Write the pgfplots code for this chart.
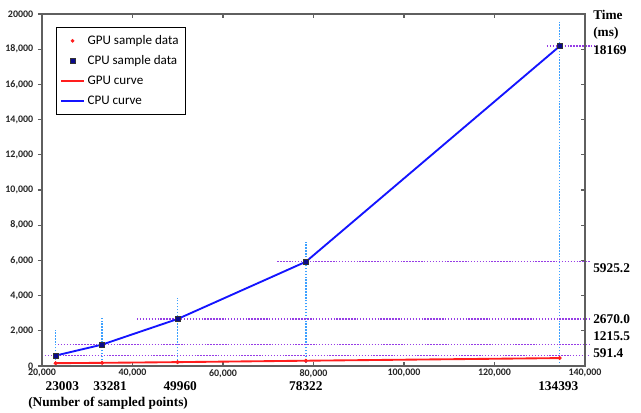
\documentclass[border=0pt]{standalone}
\usepackage{fontspec}
\setmainfont{Liberation Serif}
\newfontfamily\calfont{Carlito}
\usepackage{pgfplots}
\pgfplotsset{compat=1.18}
\definecolor{gpured}{RGB}{255,30,30}
\definecolor{cpublue}{RGB}{20,20,255}
\definecolor{cpumark}{RGB}{10,10,140}
\definecolor{refpurple}{RGB}{150,60,230}
\definecolor{refblue}{RGB}{60,160,255}
\definecolor{axgray}{RGB}{95,95,95}
\begin{document}
\begin{tikzpicture}
\pgfplotsset{
  common/.style={
    scale only axis, width=407.25pt, height=264pt,
    xmin=20000, xmax=140000, ymin=0, ymax=20000,
    scaled ticks=false,
    axis line style={axgray, line width=1pt},
    tick style={axgray, line width=0.8pt},
    major tick length=3pt,
  },
  vref/.style={color=refblue, dash pattern=on 1.1pt off 1.1pt, line width=1.1pt, forget plot},
  href/.style={color=refpurple, dash pattern=on 1.1pt off 1.1pt, line width=1.1pt, forget plot},
}
\begin{axis}[common, name=ax, clip=false,
  xtick={20000,40000,60000,80000,100000,120000,140000},
  xticklabels={{20,000},{40,000},{60,000},{80,000},{100,000},{120,000},{140,000}},
  ytick={0,2000,4000,6000,8000,10000,12000,14000,16000,18000,20000},
  yticklabels={0,{2,000},{4,000},{6,000},{8,000},{10,000},{12,000},{14,000},{16,000},{18,000},20000},
  ytick pos=left, ytick align=outside, xtick align=inside,
  tick label style={font=\calfont\bfseries\fontsize{7.5}{8}\selectfont, text=black!85},
  xticklabel style={yshift=1pt},
  legend style={at={(0.0258,0.963)}, anchor=north west,
    font=\calfont\fontsize{9.8}{11}\selectfont,
    row sep=3pt, inner xsep=3pt, inner ysep=4pt},
  legend cell align=left,
]
% vertical reference lines
\addplot[vref] coordinates {(23003,0) (23003,2050)};
\addplot[vref] coordinates {(33281,0) (33281,2780)};
\addplot[vref] coordinates {(49960,0) (49960,3860)};
\addplot[vref] coordinates {(78322,0) (78322,7050)};
\addplot[vref] coordinates {(134393,0) (134393,19550)};
% horizontal reference lines
\addplot[href] coordinates {(20000,591.4) (141100,591.4)};
\addplot[href] coordinates {(23500,1215.5) (141100,1215.5)};
\addplot[href] coordinates {(41000,2670.0) (141100,2670.0)};
\addplot[href] coordinates {(72000,5925.2) (141100,5925.2)};
\addplot[href] coordinates {(131600,18169) (142000,18169)};
% sample data (legend entries)
\addplot[only marks, mark=*, mark size=1.2pt, color=gpured] coordinates {(23003,160) (33281,180) (49960,220) (78322,300) (134393,450)};
\addlegendentry{GPU sample data}
\addplot[only marks, mark=square*, mark size=1.9pt, draw=black!80, fill=cpumark] coordinates {(23003,591.4) (33281,1215.5) (49960,2670.0) (78322,5925.2) (134393,18169)};
\addlegendentry{CPU sample data}
% curves
\addplot[draw=gpured, line width=1.4pt, mark=none] coordinates {(23003,160) (33281,180) (49960,220) (78322,300) (134393,450)};
\addlegendentry{GPU curve}
\addplot[draw=cpublue, line width=1.4pt, mark=none] coordinates {(23003,591.4) (33281,1215.5) (49960,2670.0) (78322,5925.2) (134393,18169)};
\addlegendentry{CPU curve}
% sample data again, drawn above the curves
\addplot[only marks, mark=*, mark size=1.2pt, color=gpured, forget plot] coordinates {(23003,160) (33281,180) (49960,220) (78322,300) (134393,450)};
\addplot[only marks, mark=square*, mark size=1.9pt, draw=black!80, fill=cpumark, forget plot] coordinates {(23003,591.4) (33281,1215.5) (49960,2670.0) (78322,5925.2) (134393,18169)};
% annotations
\begin{scope}[every node/.style={font=\bfseries\fontsize{10}{12}\selectfont, inner sep=0pt}]
\node[xshift=5pt, yshift=-15pt] at (axis cs:23003,0) {23003};
\node[xshift=6pt, yshift=-15pt] at (axis cs:33281,0) {33281};
\node[xshift=2pt, yshift=-15pt] at (axis cs:49960,0) {49960};
\node[xshift=0pt, yshift=-15pt] at (axis cs:78322,0) {78322};
\node[xshift=-1pt, yshift=-15pt] at (axis cs:134393,0) {134393};
\node[anchor=west, xshift=-10.5pt, yshift=-28pt] at (rel axis cs:0,0) {(Number of sampled points)};
\node[anchor=north west, align=left, xshift=6pt, yshift=3pt] at (rel axis cs:1,1) {Time\\[1pt](ms)};
\node[anchor=west, xshift=6pt, yshift=-3pt] at (axis cs:140000,18169) {18169};
\node[anchor=west, xshift=6pt, yshift=-4.5pt] at (axis cs:140000,5925.2) {5925.2};
\node[anchor=west, xshift=6pt, yshift=0pt] at (axis cs:140000,2670.0) {2670.0};
\node[anchor=west, xshift=6pt, yshift=6.5pt] at (axis cs:140000,1215.5) {1215.5};
\node[anchor=west, xshift=6pt, yshift=2pt] at (axis cs:140000,591.4) {591.4};
\end{scope}
\end{axis}
\begin{axis}[common, at={(ax.south west)}, anchor=south west,
  xtick=\empty, xticklabels={},
  ytick={2000,4000,6000,8000,10000,12000,14000,16000,18000},
  yticklabels={}, ytick pos=right, ytick align=inside]
\end{axis}
\pgfresetboundingbox
\useasboundingbox ([xshift=-31.5pt,yshift=-35.25pt]ax.south west) rectangle ([xshift=42pt,yshift=10.5pt]ax.north east);
\end{tikzpicture}
\end{document}
